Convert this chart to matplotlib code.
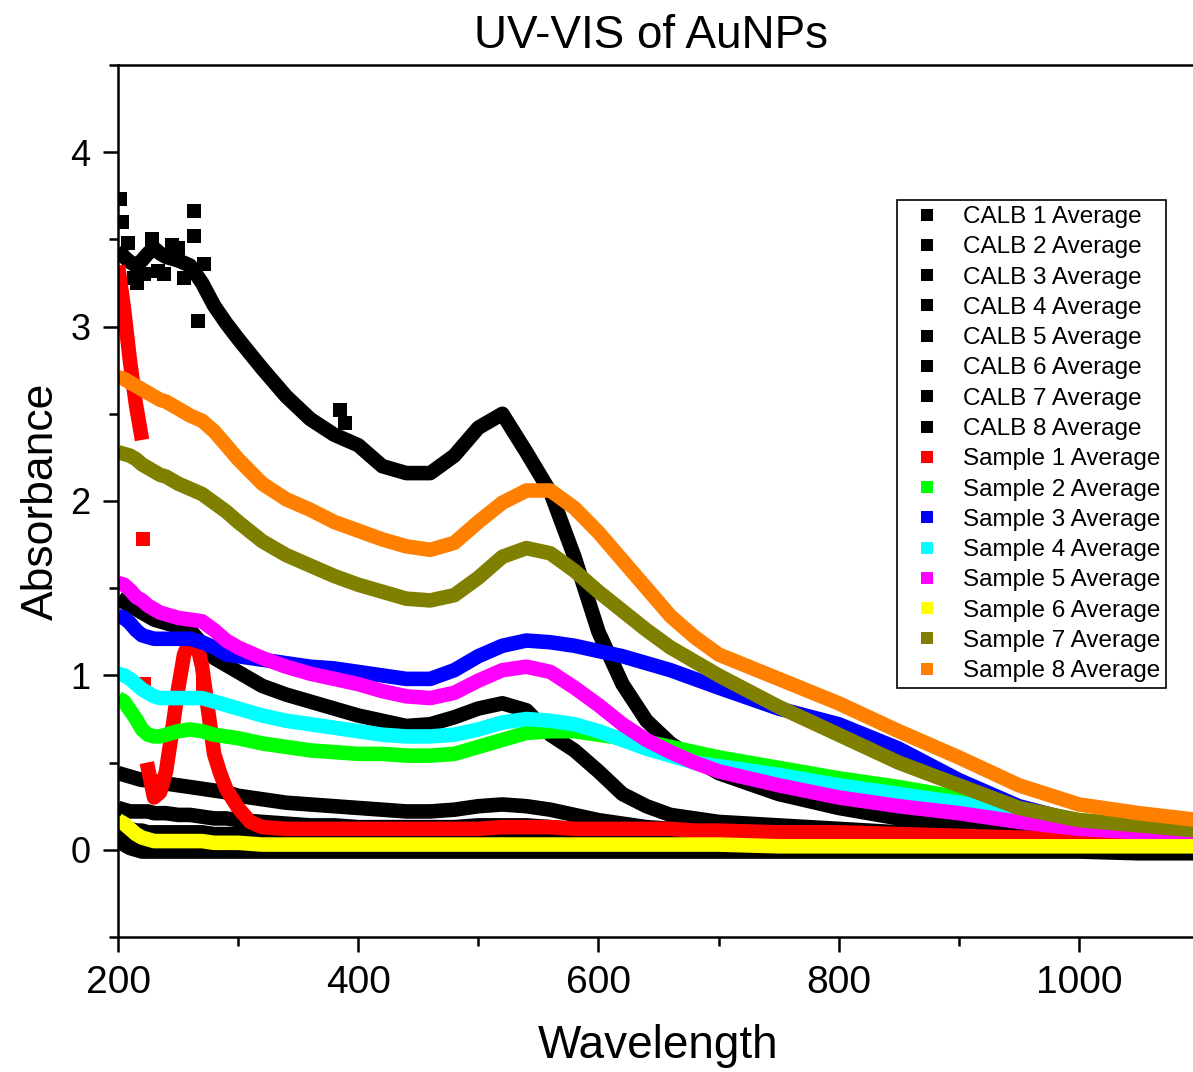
import matplotlib
matplotlib.use("Agg")
import matplotlib.pyplot as plt
from matplotlib.ticker import MultipleLocator
from matplotlib.lines import Line2D
import numpy as np

plt.rcParams['font.family'] = ['Liberation Sans', 'DejaVu Sans']

# wavelength grid shared by most series (nm)
wl = [200, 205, 210, 215, 220, 225, 230, 235, 240,
      250, 260, 270, 280, 290, 300,
      320, 340, 360, 380, 400, 420, 440, 460, 480, 500,
      520, 540, 560, 580, 600, 620, 640, 660, 680, 700,
      750, 800, 850, 900, 950, 1000, 1050, 1100]

calb1 = [0.06, 0.03, 0.01, 0.00, -0.01, -0.01, -0.01, -0.01, -0.01,
         -0.01, -0.01, -0.01, -0.01, -0.01, -0.01,
         -0.01, -0.01, -0.01, -0.01, -0.01, -0.01, -0.01, -0.01, -0.01, -0.01,
         -0.01, -0.01, -0.01, -0.01, -0.01, -0.01, -0.01, -0.01, -0.01, -0.01,
         -0.01, -0.01, -0.01, -0.01, -0.01, -0.01, -0.02, -0.02]
calb2 = [0.12, 0.08, 0.06, 0.05, 0.04, 0.04, 0.03, 0.03, 0.03,
         0.03, 0.03, 0.03, 0.03, 0.03, 0.03,
         0.03, 0.03, 0.03, 0.02, 0.02, 0.02, 0.02, 0.02, 0.02, 0.02,
         0.02, 0.02, 0.02, 0.02, 0.02, 0.02, 0.02, 0.02, 0.02, 0.02,
         0.02, 0.02, 0.02, 0.01, 0.01, 0.01, 0.01, 0.01]
calb3 = [0.10, 0.08, 0.07, 0.07, 0.07, 0.06, 0.06, 0.06, 0.06,
         0.06, 0.06, 0.06, 0.06, 0.06, 0.06,
         0.06, 0.06, 0.06, 0.06, 0.06, 0.05, 0.05, 0.05, 0.05, 0.05,
         0.06, 0.06, 0.05, 0.05, 0.05, 0.05, 0.05, 0.05, 0.05, 0.05,
         0.05, 0.05, 0.04, 0.04, 0.03, 0.03, 0.03, 0.02]
calb4 = [0.15, 0.13, 0.12, 0.11, 0.11, 0.10, 0.10, 0.10, 0.10,
         0.10, 0.10, 0.10, 0.09, 0.09, 0.09,
         0.09, 0.09, 0.08, 0.08, 0.08, 0.08, 0.08, 0.08, 0.08, 0.08,
         0.09, 0.09, 0.08, 0.08, 0.08, 0.07, 0.07, 0.07, 0.07, 0.07,
         0.06, 0.05, 0.05, 0.04, 0.04, 0.03, 0.03, 0.03]
calb5 = [0.24, 0.23, 0.22, 0.22, 0.22, 0.22, 0.21, 0.21, 0.21,
         0.20, 0.20, 0.19, 0.18, 0.18, 0.17,
         0.16, 0.15, 0.14, 0.14, 0.13, 0.13, 0.13, 0.13, 0.13, 0.14,
         0.14, 0.14, 0.13, 0.12, 0.11, 0.10, 0.10, 0.09, 0.09, 0.08,
         0.07, 0.06, 0.06, 0.05, 0.05, 0.04, 0.04, 0.03]
calb6 = [0.44, 0.43, 0.42, 0.41, 0.40, 0.40, 0.39, 0.39, 0.38,
         0.37, 0.36, 0.35, 0.34, 0.33, 0.31,
         0.29, 0.27, 0.26, 0.25, 0.24, 0.23, 0.22, 0.22, 0.23, 0.25,
         0.26, 0.25, 0.23, 0.20, 0.17, 0.15, 0.13, 0.12, 0.11, 0.10,
         0.09, 0.08, 0.07, 0.06, 0.05, 0.05, 0.04, 0.04]
calb7 = [1.44, 1.42, 1.40, 1.38, 1.36, 1.34, 1.32, 1.31, 1.30,
         1.28, 1.26, 1.18, 1.10, 1.06, 1.02,
         0.94, 0.89, 0.85, 0.81, 0.77, 0.74, 0.71, 0.72, 0.76, 0.81,
         0.84, 0.80, 0.66, 0.57, 0.45, 0.32, 0.25, 0.20, 0.18, 0.16,
         0.14, 0.12, 0.10, 0.09, 0.08, 0.07, 0.06, 0.05]
calb8 = [3.45, 3.40, 3.37, 3.35, 3.38, 3.42, 3.45, 3.42, 3.40,
         3.38, 3.35, 3.25, 3.12, 3.02, 2.93,
         2.76, 2.60, 2.47, 2.38, 2.32, 2.20, 2.16, 2.16, 2.26, 2.42,
         2.50, 2.28, 2.05, 1.68, 1.25, 0.95, 0.74, 0.61, 0.52, 0.44,
         0.32, 0.24, 0.18, 0.14, 0.12, 0.09, 0.07, 0.06]

# stray points of the noisy CALB 8 trace
calb8_noise_wl = [202, 203, 208, 213, 216, 222, 228, 233, 238, 245, 250, 255, 263, 263, 267, 272, 385, 389]
calb8_noise_abs = [3.73, 3.60, 3.48, 3.28, 3.25, 3.30, 3.50, 3.32, 3.30, 3.47, 3.45, 3.28, 3.66, 3.52, 3.03, 3.36, 2.52, 2.45]

# sample 1 has a sharp dip/peak, so it keeps its own finer grid
wl_s1 = [200, 205, 210, 215, 220, 222, 224,
         230, 235, 240, 245, 250, 255, 260, 265, 270, 275, 280, 285, 290,
         300, 310, 320,
         340, 360, 380, 400, 420, 440, 460, 480, 500, 520, 540, 560, 580, 600,
         620, 640, 660, 680, 700,
         750, 800, 850, 900, 950, 1000, 1050, 1100]
s1 = [3.35, 3.10, 2.80, 2.55, 2.35, np.nan, 0.50,
      0.30, 0.33, 0.45, 0.68, 0.92, 1.12, 1.20, 1.20, 1.05, 0.80, 0.55, 0.44, 0.35,
      0.24, 0.16, 0.13,
      0.12, 0.12, 0.12, 0.12, 0.12, 0.12, 0.12, 0.12, 0.12, 0.13, 0.13, 0.13, 0.12, 0.12,
      0.12, 0.12, 0.12, 0.11, 0.11,
      0.10, 0.10, 0.09, 0.08, 0.07, 0.06, 0.05, 0.05]
s1_noise_wl = [221, 222, 271]
s1_noise_abs = [1.78, 0.95, 0.95]

s2 = [0.87, 0.85, 0.80, 0.75, 0.69, 0.66, 0.65, 0.65, 0.66,
      0.68, 0.69, 0.68, 0.66, 0.65, 0.64,
      0.61, 0.59, 0.57, 0.56, 0.55, 0.55, 0.54, 0.54, 0.55, 0.59,
      0.63, 0.67, 0.68, 0.68, 0.66, 0.64, 0.62, 0.59, 0.56, 0.53,
      0.47, 0.41, 0.36, 0.30, 0.23, 0.17, 0.14, 0.12]
s3 = [1.34, 1.33, 1.30, 1.26, 1.23, 1.22, 1.21, 1.21, 1.21,
      1.21, 1.21, 1.19, 1.16, 1.12, 1.11,
      1.09, 1.07, 1.05, 1.04, 1.02, 1.00, 0.98, 0.98, 1.03, 1.11,
      1.17, 1.20, 1.19, 1.17, 1.14, 1.11, 1.07, 1.03, 0.98, 0.93,
      0.81, 0.72, 0.58, 0.40, 0.25, 0.16, 0.12, 0.09]
s4 = [1.01, 1.00, 0.98, 0.95, 0.92, 0.90, 0.88, 0.87, 0.87,
      0.87, 0.87, 0.87, 0.85, 0.83, 0.81,
      0.77, 0.74, 0.72, 0.70, 0.68, 0.66, 0.65, 0.65, 0.66, 0.69,
      0.73, 0.75, 0.74, 0.72, 0.68, 0.63, 0.58, 0.54, 0.50, 0.48,
      0.43, 0.37, 0.32, 0.27, 0.21, 0.16, 0.13, 0.11]
s5 = [1.53, 1.52, 1.49, 1.45, 1.43, 1.40, 1.38, 1.36, 1.35,
      1.33, 1.32, 1.31, 1.26, 1.20, 1.16,
      1.10, 1.05, 1.01, 0.98, 0.95, 0.91, 0.88, 0.87, 0.90, 0.97,
      1.03, 1.05, 1.02, 0.93, 0.83, 0.72, 0.63, 0.56, 0.50, 0.45,
      0.37, 0.30, 0.25, 0.21, 0.16, 0.12, 0.10, 0.08]
s6 = [0.17, 0.15, 0.12, 0.09, 0.07, 0.06, 0.05, 0.05, 0.05,
      0.05, 0.05, 0.05, 0.04, 0.04, 0.04,
      0.03, 0.03, 0.03, 0.03, 0.03, 0.03, 0.03, 0.03, 0.03, 0.03,
      0.03, 0.03, 0.03, 0.03, 0.03, 0.03, 0.03, 0.03, 0.03, 0.03,
      0.02, 0.02, 0.02, 0.02, 0.02, 0.02, 0.02, 0.02]
s7 = [2.28, 2.27, 2.26, 2.24, 2.21, 2.19, 2.17, 2.15, 2.14,
      2.10, 2.07, 2.04, 1.99, 1.94, 1.88,
      1.77, 1.69, 1.63, 1.57, 1.52, 1.48, 1.44, 1.43, 1.46, 1.56,
      1.68, 1.73, 1.70, 1.60, 1.48, 1.37, 1.26, 1.16, 1.08, 1.00,
      0.82, 0.66, 0.50, 0.37, 0.24, 0.17, 0.14, 0.11]
s8 = [2.71, 2.70, 2.68, 2.66, 2.64, 2.62, 2.60, 2.58, 2.57,
      2.53, 2.49, 2.46, 2.40, 2.32, 2.24,
      2.10, 2.01, 1.95, 1.88, 1.83, 1.78, 1.74, 1.72, 1.76, 1.88,
      1.99, 2.06, 2.06, 1.96, 1.82, 1.66, 1.50, 1.34, 1.22, 1.12,
      0.98, 0.84, 0.68, 0.53, 0.37, 0.26, 0.21, 0.17]

labels = ['CALB 1 Average', 'CALB 2 Average', 'CALB 3 Average', 'CALB 4 Average',
          'CALB 5 Average', 'CALB 6 Average', 'CALB 7 Average', 'CALB 8 Average',
          'Sample 1 Average', 'Sample 2 Average', 'Sample 3 Average', 'Sample 4 Average',
          'Sample 5 Average', 'Sample 6 Average', 'Sample 7 Average', 'Sample 8 Average']
colors = ['#000000'] * 8 + ['#FF0000', '#00FF00', '#0000FF', '#00FFFF',
                            '#FF00FF', '#FFFF00', '#808000', '#FF8000']
xs = [wl] * 8 + [wl_s1] + [wl] * 7
ys = [calb1, calb2, calb3, calb4, calb5, calb6, calb7, calb8,
      s1, s2, s3, s4, s5, s6, s7, s8]

fig = plt.figure(figsize=(11.93, 10.72), dpi=100)
ax = fig.add_axes([118 / 1193, 135 / 1072, 1081 / 1193, 872 / 1072])

for i in range(len(ys)):
    ax.plot(xs[i], ys[i], color=colors[i], lw=10.5,
            solid_joinstyle='round', solid_capstyle='butt')
    if i == 7:
        ax.plot(calb8_noise_wl, calb8_noise_abs, ls='none', marker='s', ms=10,
                mew=0, color=colors[i])
    if i == 8:
        ax.plot(s1_noise_wl, s1_noise_abs, ls='none', marker='s', ms=10,
                mew=0, color=colors[i])

ax.set_xlim(200, 1100)
ax.set_ylim(-0.5, 4.5)
ax.xaxis.set_major_locator(MultipleLocator(200))
ax.xaxis.set_minor_locator(MultipleLocator(100))
ax.yaxis.set_major_locator(MultipleLocator(1))
ax.yaxis.set_minor_locator(MultipleLocator(0.5))
ax.tick_params(which='both', direction='out', width=1.8, top=False, right=False)
ax.tick_params(which='major', length=11, pad=9)
ax.tick_params(which='minor', length=6.5)
ax.tick_params(axis='x', labelsize=28)
ax.tick_params(axis='y', labelsize=26)
for side in ['left', 'bottom', 'top', 'right']:
    ax.spines[side].set_linewidth(1.8)

ax.set_title('UV-VIS of AuNPs', fontsize=33, pad=12, x=0.493)
ax.set_xlabel('Wavelength', fontsize=33, labelpad=17)
ax.set_ylabel('Absorbance', fontsize=32, labelpad=6)

handles = [Line2D([], [], ls='none', marker='s', ms=8.5, mew=0, color=c) for c in colors]
leg = ax.legend(handles, labels, loc='upper left',
                bbox_to_anchor=(897 / 1193, 1 - 200 / 1072), bbox_transform=fig.transFigure,
                fontsize=17.5, frameon=True, fancybox=False, edgecolor='black', framealpha=1,
                borderpad=0.25, labelspacing=0.34, handlelength=2.0, handletextpad=0.45,
                borderaxespad=0)
leg.get_frame().set_linewidth(1.2)

plt.savefig('out.png', dpi=100)
